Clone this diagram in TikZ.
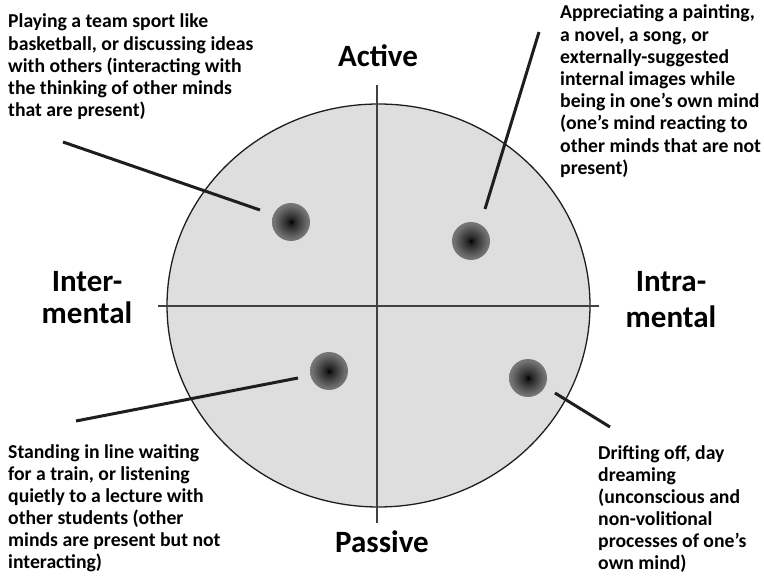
\documentclass[tikz,border=0pt]{standalone}
\usepackage{fontspec}
\setmainfont{Carlito}
\usetikzlibrary{shadings}

\definecolor{discfill}{RGB}{222,222,222}
\definecolor{inkline}{RGB}{30,30,30}

% soft dark spot: black centre fading to mid grey at the rim
\pgfdeclareradialshading{spotshade}{\pgfpoint{0bp}{0bp}}{%
  color(0bp)=(black);
  color(5bp)=(black!85);
  color(22bp)=(black!56);
  color(42bp)=(black!40);
  color(50bp)=(black!32)}

\newcommand{\textlines}[1]{\begin{tabular}[t]{@{}l@{}}#1\end{tabular}}
\newcommand{\biglines}[1]{\begin{tabular}[t]{@{}c@{}}#1\end{tabular}}

\begin{document}
\begin{tikzpicture}[x=1pt, y=-1pt,
  disc/.style={fill=discfill, draw=inkline, line width=1.3pt},
  axis/.style={draw=black!75, line width=1.5pt},
  spot/.style={circle, minimum size=38pt, inner sep=0pt, shading=spotshade},
  pointer/.style={draw=inkline, line width=3pt},
  note/.style={anchor=base west, inner sep=0pt,
    font=\bfseries\fontsize{19.7}{22.2}\selectfont},
  pole/.style={anchor=base, inner sep=0pt,
    font=\bfseries\fontsize{31}{31}\selectfont}]

\useasboundingbox (0,0) rectangle (764,580);

% the disc and its two axes
\draw[disc] (378.5,305.5) ellipse [x radius=211.5pt, y radius=201.5pt];
\coordinate (axN) at (377,85);
\coordinate (axS) at (377,523);
\coordinate (axW) at (158,306);
\coordinate (axE) at (599,306);
\draw[axis] (axN) -- (axS);
\draw[axis] (axW) -- (axE);

% the four spots
\node[spot] (spotTL) at (291,222) {};
\node[spot] (spotTR) at (471,241) {};
\node[spot] (spotBL) at (329,371) {};
\node[spot] (spotBR) at (528,378) {};

% pointers from the notes towards the spots
\coordinate (tlFar) at (63,142);   \coordinate (tlNear) at (260,210);
\coordinate (trFar) at (539,32);   \coordinate (trNear) at (485,209);
\coordinate (blFar) at (76,421);   \coordinate (blNear) at (298,378);
\coordinate (brFar) at (610,427);  \coordinate (brNear) at (555,393);
\draw[pointer] (tlFar) -- (tlNear);
\draw[pointer] (trFar) -- (trNear);
\draw[pointer] (blFar) -- (blNear);
\draw[pointer] (brFar) -- (brNear);

% pole labels
\node[pole] (active) at (378,67) {Active};
\node[pole] (passive) at (382,552) {Passive};
\node[pole] (inter) at (87,292) {\biglines{Inter-\\ mental}};
\node[pole] (intra) at (671,292) {\biglines{Intra-\\[4pt] mental}};

% notes
\node[note] (noteTL) at (8,28) {\textlines{Playing a team sport like\\
  basketball, or discussing ideas\\ with others (interacting with\\
  the thinking of other minds\\ that are present)}};
\node[note] (noteTR) at (560,19) {\textlines{Appreciating a painting,\\
  a novel, a song, or\\ externally-suggested\\ internal images while\\
  being in one’s own mind\\ (one’s mind reacting to\\
  other minds that are not\\ present)}};
\node[note] (noteBL) at (8,458) {\textlines{Standing in line waiting\\
  for a train, or listening\\ quietly to a lecture with\\
  other students (other\\ minds are present but not\\ interacting)}};
\node[note] (noteBR) at (598,459) {\textlines{Drifting off, day\\ dreaming\\
  (unconscious and\\ non-volitional\\ processes of one’s\\ own mind)}};

\end{tikzpicture}
\end{document}
